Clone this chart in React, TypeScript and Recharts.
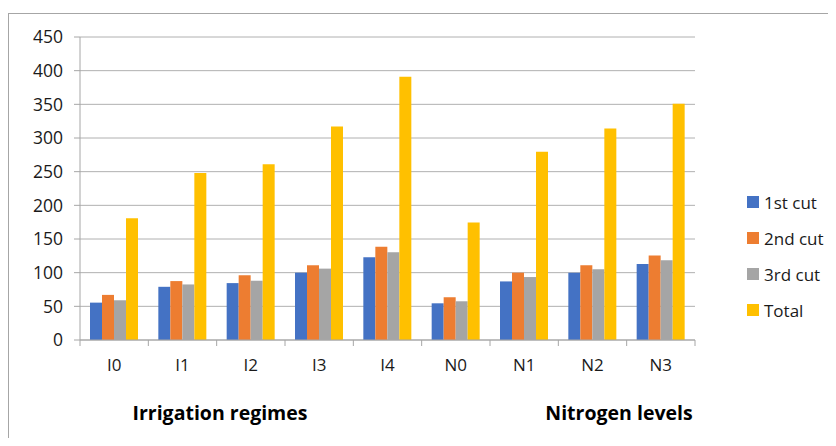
import { BarChart, Bar, XAxis, YAxis, CartesianGrid } from 'recharts';

const categories = ['I0', 'I1', 'I2', 'I3', 'I4', 'N0', 'N1', 'N2', 'N3'];
const firstCut = [55.5, 79, 84.5, 100, 123, 54.5, 87, 100, 113];
const secondCut = [67, 87.5, 96, 111, 138.5, 63.5, 100, 111, 125.5];
const thirdCut = [59, 82.5, 88, 106, 130.5, 57.5, 93.5, 105, 118.5];
const total = [181, 248, 261, 317, 391, 174.5, 279.5, 314, 351];
const yTicks = [0, 50, 100, 150, 200, 250, 300, 350, 400, 450];
const groupLabels = ['Irrigation regimes', 'Nitrogen levels'];

const series = [
    { key: 'first', name: '1st cut', color: '#4472C4' },
    { key: 'second', name: '2nd cut', color: '#ED7D31' },
    { key: 'third', name: '3rd cut', color: '#A5A5A5' },
    { key: 'total', name: 'Total', color: '#FFC000' },
];

const data = categories.map((c, i) => ({
    name: c,
    first: firstCut[i],
    second: secondCut[i],
    third: thirdCut[i],
    total: total[i],
}));

const FONT = '"Open Sans", sans-serif';
const AXIS_GREY = '#a6a6a6';
const TEXT = '#1a1a1a';

function XTick(props: any) {
    const { x, y, payload, index } = props;
    const half = payload && payload.offset ? payload.offset : 34.2;
    return (
        <g>
            <line x1={x - half} y1={y - 8} x2={x - half} y2={y - 2} stroke={AXIS_GREY} />
            {index === categories.length - 1 && (
                <line x1={x + half} y1={y - 8} x2={x + half} y2={y - 2} stroke={AXIS_GREY} />
            )}
            <text x={x} y={y + 23} textAnchor="middle" fill={TEXT} fontSize={17} fontFamily={FONT}>
                {payload.value}
            </text>
        </g>
    );
}

export default function App() {
    return (
        <div style={{ position: 'relative', width: 828, height: 430, fontFamily: FONT }}>
            <div
                style={{
                    position: 'absolute',
                    left: 0,
                    top: 5,
                    right: 0,
                    bottom: 0,
                    borderTop: `1px solid ${AXIS_GREY}`,
                    borderLeft: `1px solid ${AXIS_GREY}`,
                }}
            />
            <BarChart
                width={828}
                height={430}
                data={data}
                margin={{ top: 29, right: 141, left: 0, bottom: 68 }}
                barGap={0}
                barCategoryGap={10}
            >
                <CartesianGrid vertical={false} stroke="#b0b0b0" strokeWidth={1} />
                <XAxis
                    dataKey="name"
                    stroke={AXIS_GREY}
                    tickLine={false}
                    tick={<XTick />}
                    interval={0}
                    height={30}
                />
                <YAxis
                    domain={[0, 450]}
                    ticks={yTicks}
                    width={72}
                    stroke={AXIS_GREY}
                    tickSize={6}
                    tickMargin={11}
                    tick={{ fill: TEXT, fontSize: 17.5, fontFamily: FONT }}
                />
                {series.map((s) => (
                    <Bar key={s.key} dataKey={s.key} name={s.name} fill={s.color} isAnimationActive={false} />
                ))}
            </BarChart>
            <div style={{ position: 'absolute', left: 739, top: 176 }}>
                {series.map((s) => (
                    <div key={s.key} style={{ display: 'flex', alignItems: 'center', height: 36, fontSize: 17, color: TEXT }}>
                        <span style={{ width: 12, height: 12, background: s.color, marginRight: 5, display: 'inline-block' }} />
                        {s.name}
                    </div>
                ))}
            </div>
            <div style={{ position: 'absolute', left: 212, top: 391, transform: 'translateX(-50%)', fontSize: 19.5, fontWeight: 'bold', color: '#000', whiteSpace: 'nowrap' }}>
                {groupLabels[0]}
            </div>
            <div style={{ position: 'absolute', left: 611, top: 391, transform: 'translateX(-50%)', fontSize: 19.5, fontWeight: 'bold', color: '#000', whiteSpace: 'nowrap' }}>
                {groupLabels[1]}
            </div>
        </div>
    );
}
